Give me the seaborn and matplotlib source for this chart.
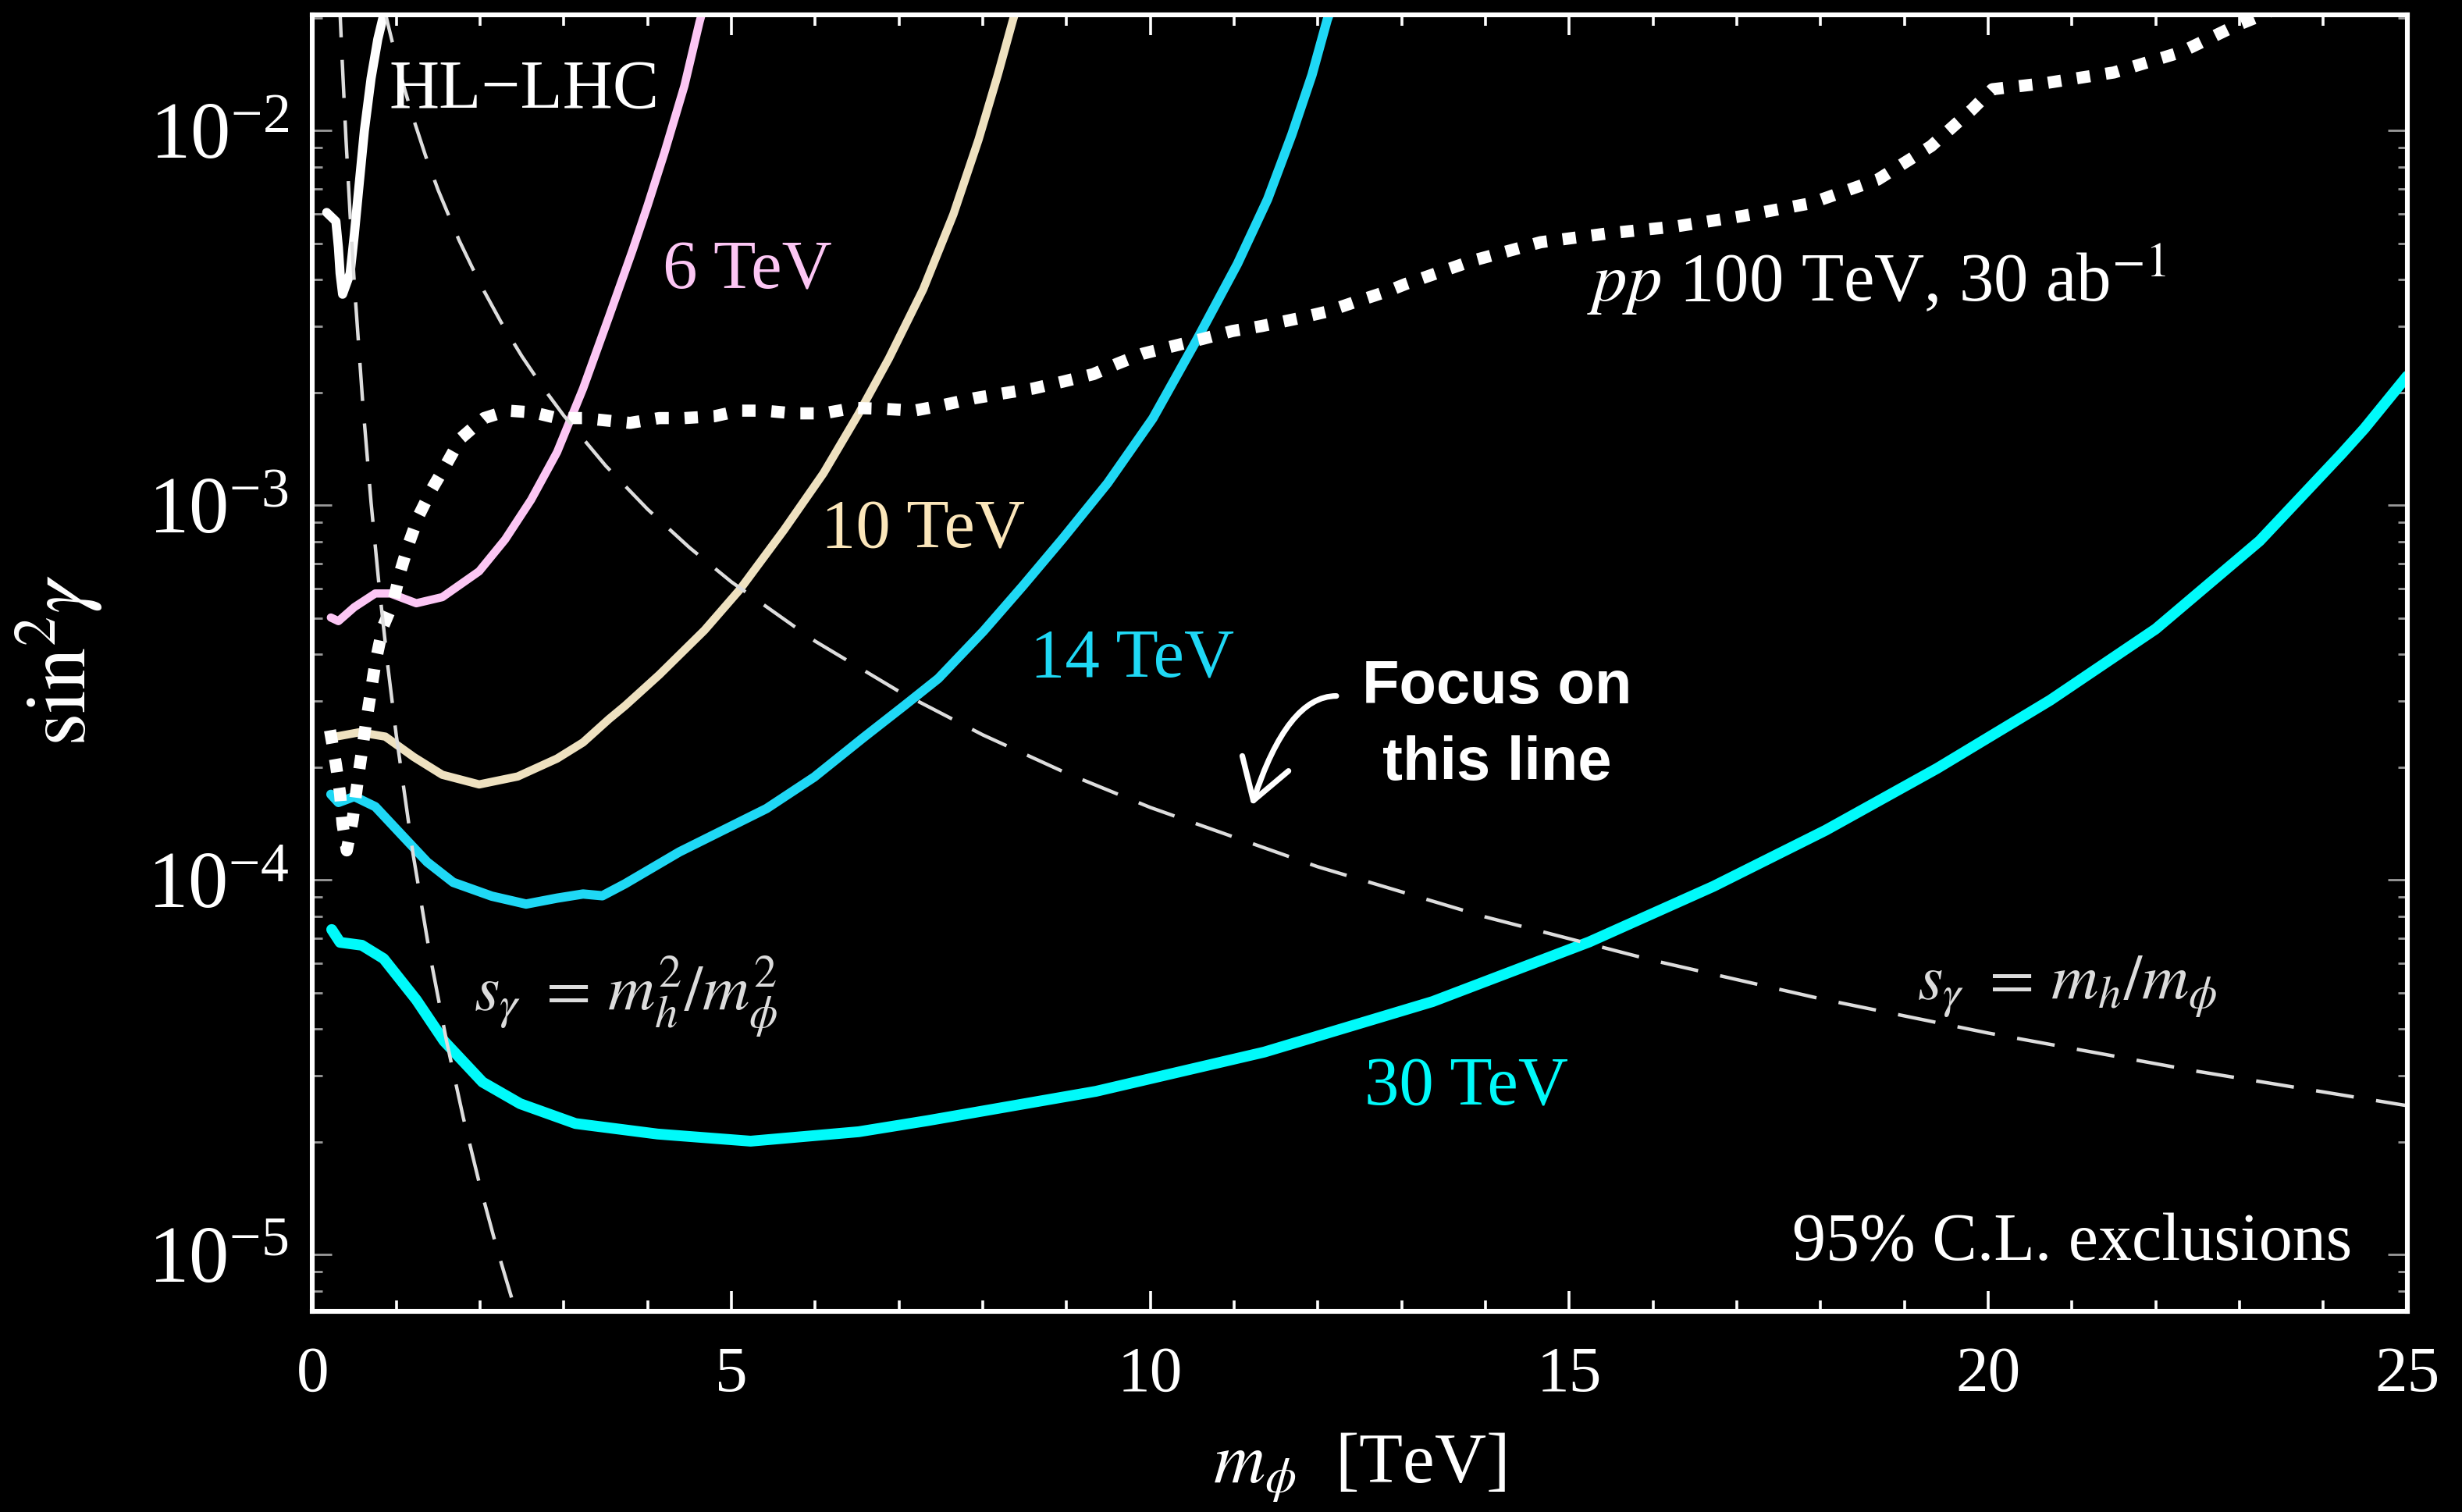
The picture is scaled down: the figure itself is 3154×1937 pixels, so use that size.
import numpy as np
import matplotlib
matplotlib.use("Agg")
import matplotlib.pyplot as plt
import seaborn as sns
from matplotlib.ticker import LogLocator, NullFormatter, MultipleLocator

# ---------------- data (m_phi in TeV, sin^2 gamma) ----------------
m_hl = [0.17, 0.28, 0.31, 0.33, 0.36, 0.45, 0.50, 0.56, 0.62, 0.70, 0.78, 0.84, 0.86]
y_hl = [6.05e-3, 5.73e-3, 4.88e-3, 4.16e-3, 3.66e-3, 4.16e-3, 5.28e-3, 7.28e-3,
        1.0e-2, 1.38e-2, 1.754e-2, 1.995e-2, 2.09e-2]

m_6 = [0.22, 0.31, 0.50, 0.75, 0.93, 1.24, 1.55, 1.99, 2.30, 2.61, 2.92, 3.23,
       3.54, 3.82, 4.00, 4.20, 4.44, 4.62, 4.66]
y_6 = [5.02e-4, 4.91e-4, 5.35e-4, 5.82e-4, 5.82e-4, 5.48e-4, 5.69e-4, 6.67e-4,
       8.11e-4, 1.035e-3, 1.387e-3, 2.05e-3, 3.19e-3, 4.79e-3, 6.31e-3, 8.71e-3,
       1.318e-2, 1.95e-2, 2.1e-2]

m_10 = [0.28, 0.56, 0.87, 1.21, 1.55, 1.99, 2.45, 2.92, 3.23, 3.54, 3.73, 4.14,
        4.68, 5.10, 5.63, 6.10, 6.52, 6.88, 7.29, 7.65, 7.95, 8.18, 8.36, 8.40]
y_10 = [2.415e-4, 2.48e-4, 2.415e-4, 2.13e-4, 1.91e-4, 1.80e-4, 1.89e-4, 2.11e-4,
        2.33e-4, 2.69e-4, 2.917e-4, 3.532e-4, 4.645e-4, 5.957e-4, 8.61e-4, 1.219e-3,
        1.758e-3, 2.466e-3, 3.776e-3, 5.98e-3, 9.46e-3, 1.409e-2, 1.972e-2, 2.11e-2]

m_14 = [0.22, 0.31, 0.50, 0.75, 1.06, 1.37, 1.68, 2.14, 2.55, 2.92, 3.23, 3.46,
        3.73, 4.38, 5.42, 5.99, 6.58, 7.06, 7.47, 8.01, 8.48, 8.96, 9.49, 10.03,
        10.56, 11.04, 11.40, 11.69, 11.93, 12.11, 12.15]
y_14 = [1.694e-4, 1.611e-4, 1.671e-4, 1.570e-4, 1.324e-4, 1.117e-4, 9.86e-5, 9.06e-5,
        8.63e-5, 8.95e-5, 9.18e-5, 9.08e-5, 9.77e-5, 1.189e-4, 1.552e-4, 1.884e-4,
        2.404e-4, 2.917e-4, 3.451e-4, 4.62e-4, 6.10e-4, 8.18e-4, 1.146e-3, 1.706e-3,
        2.780e-3, 4.41e-3, 6.56e-3, 9.77e-3, 1.409e-2, 1.972e-2, 2.09e-2]

m_30 = [0.23, 0.33, 0.59, 0.85, 1.24, 1.57, 2.03, 2.48, 3.14, 4.12, 5.23, 6.52,
        7.34, 9.35, 11.36, 13.37, 15.24, 16.72, 18.06, 19.39, 20.74, 22.0, 23.24,
        24.22, 24.49, 25.0]
y_30 = [7.38e-5, 6.82e-5, 6.70e-5, 6.17e-5, 4.79e-5, 3.72e-5, 2.89e-5, 2.53e-5,
        2.24e-5, 2.10e-5, 2.01e-5, 2.13e-5, 2.28e-5, 2.73e-5, 3.475e-5, 4.74e-5,
        6.84e-5, 9.62e-5, 1.358e-4, 1.986e-4, 3.02e-4, 4.68e-4, 8.04e-4,
        1.374e-3, 1.603e-3, 2.213e-3]

m_pp = [0.21, 0.28, 0.33, 0.36, 0.41, 0.48, 0.55, 0.64, 0.75, 0.84, 0.96, 1.05,
        1.15, 1.27, 1.43, 1.60, 1.77, 2.05, 2.33, 2.64, 2.92, 3.23, 3.79, 4.14,
        4.44, 4.80, 5.10, 5.39, 5.75, 6.10, 6.46, 6.82, 7.18, 7.47, 7.89, 8.24,
        8.60, 8.96, 9.32, 9.61, 9.91, 10.27, 10.62, 10.98, 11.33, 11.75, 12.11,
        12.46, 12.82, 13.05, 13.85, 14.66, 15.46, 16.27, 17.07, 17.88, 18.68,
        19.32, 19.81, 20.05, 20.69, 21.50, 22.30, 22.94, 23.35]
y_pp = [2.51e-4, 2.04e-4, 1.70e-4, 1.41e-4, 1.20e-4, 1.45e-4, 1.91e-4, 2.63e-4,
        3.79e-4, 4.73e-4, 5.48e-4, 6.67e-4, 7.91e-4, 9.40e-4, 1.11e-3, 1.29e-3,
        1.51e-3, 1.71e-3, 1.79e-3, 1.77e-3, 1.71e-3, 1.71e-3, 1.66e-3, 1.71e-3,
        1.71e-3, 1.73e-3, 1.79e-3, 1.79e-3, 1.76e-3, 1.76e-3, 1.82e-3, 1.81e-3,
        1.79e-3, 1.84e-3, 1.93e-3, 1.99e-3, 2.05e-3, 2.14e-3, 2.24e-3, 2.39e-3,
        2.54e-3, 2.66e-3, 2.78e-3, 2.92e-3, 3.01e-3, 3.15e-3, 3.29e-3, 3.50e-3,
        3.72e-3, 3.90e-3, 4.50e-3, 5.04e-3, 5.32e-3, 5.55e-3, 5.92e-3, 6.40e-3,
        7.40e-3, 9.10e-3, 1.14e-2, 1.29e-2, 1.34e-2, 1.43e-2, 1.62e-2, 1.90e-2,
        2.07e-2]

# s_gamma = m_h / m_phi  (sin^2 gamma values)
m_lin = [0.85, 0.9, 1.0, 1.1, 1.2, 1.35, 1.5, 1.75, 2.0, 2.25, 2.5, 2.75, 3.0, 3.5,
         4.0, 4.5, 5.0, 6.0, 7.0, 8.0, 9.0, 10.0, 12.0, 14.0, 16.0, 18.0, 20.0,
         22.5, 25.0]
y_lin = [0.021626, 0.019290, 0.015625, 0.012913, 0.010851, 0.0085734, 0.0069444,
         0.0051020, 0.0039063, 0.0030864, 0.0025, 0.0020661, 0.0017361, 0.0012755,
         0.00097656, 0.00077160, 0.000625, 0.00043403, 0.00031888, 0.00024414,
         0.00019290, 0.00015625, 0.00010851, 7.9719e-5, 6.1035e-5, 4.8225e-5,
         3.9063e-5, 3.0864e-5, 2.5e-5]

# s_gamma = m_h^2 / m_phi^2
m_quad = [0.32, 0.35, 0.4, 0.45, 0.5, 0.6, 0.7, 0.8, 0.9, 1.0, 1.2, 1.4, 1.6, 1.8,
          2.0, 2.2, 2.45]
y_quad = [0.023283, 0.016270, 0.0095367, 0.0059537, 0.0039063, 0.0018838, 0.0010169,
          0.00059605, 0.00037211, 0.00024414, 0.00011774, 6.3552e-5, 3.7253e-5,
          2.3257e-5, 1.5259e-5, 1.0422e-5, 6.7761e-6]

x_ticks = [0, 5, 10, 15, 20, 25]

# ---------------- style ----------------
sns.set_theme(style="dark")
plt.rcParams.update({
    "font.family": ["Liberation Serif", "DejaVu Serif"],
    "mathtext.fontset": "stix",
    "figure.facecolor": "black",
    "axes.facecolor": "black",
    "savefig.facecolor": "black",
    "axes.grid": False,
    "text.color": "white",
    "axes.labelcolor": "white",
})

fig = plt.figure(figsize=(15.77, 9.685), dpi=200)
ax = fig.add_axes([0.1269, 0.1325, 0.8508, 0.8578])
ax.set_yscale("log")
ax.set_xlim(0, 25)
ax.set_ylim(7.05e-6, 0.0204)

PINK = "#FCC6F4"
BEIGE = "#EEE1C0"
SKY = "#1FD8F5"
CYAN = "#00FAFA"
DASH = "#DDDDDD"

kw = dict(ax=ax, sort=False, estimator=None, legend=False)
sns.lineplot(x=m_6, y=y_6, color=PINK, linewidth=3.8, **kw)
sns.lineplot(x=m_10, y=y_10, color=BEIGE, linewidth=3.8, **kw)
sns.lineplot(x=m_14, y=y_14, color=SKY, linewidth=4.3, **kw)
sns.lineplot(x=m_30, y=y_30, color=CYAN, linewidth=5.0, **kw)
sns.lineplot(x=m_hl, y=y_hl, color="white", linewidth=4.2, **kw)
sns.lineplot(x=m_pp, y=y_pp, color="white", linewidth=5.6,
             linestyle=(0, (1.1, 1.3)), dash_capstyle="butt", **kw)
sns.lineplot(x=m_lin, y=y_lin, color=DASH, linewidth=1.6,
             linestyle=(0, (11, 6.5)), **kw)
sns.lineplot(x=m_quad, y=y_quad, color=DASH, linewidth=1.6,
             linestyle=(0, (11, 6.5)), **kw)

# ---------------- axes styling ----------------
for s in ax.spines.values():
    s.set_color("white")
    s.set_linewidth(2.2)

ax.xaxis.set_major_locator(MultipleLocator(5))
ax.xaxis.set_minor_locator(MultipleLocator(1))
ax.set_xticks(x_ticks)
ax.set_xticklabels([str(t) for t in x_ticks])
ax.yaxis.set_major_locator(LogLocator(base=10, numticks=12))
ax.yaxis.set_minor_locator(LogLocator(base=10, subs=np.arange(2, 10), numticks=100))
ax.yaxis.set_minor_formatter(NullFormatter())

ax.tick_params(axis="x", which="both", direction="in", top=True, bottom=True,
               color="white", labelcolor="white", labelsize=30, pad=16)
ax.tick_params(axis="x", which="major", length=9.5, width=1.3)
ax.tick_params(axis="x", which="minor", length=5, width=1.3)
ax.tick_params(axis="y", which="both", direction="in", left=True, right=True,
               color="#9a9a9a", labelcolor="white", labelsize=37, pad=11)
ax.tick_params(axis="y", which="major", length=9, width=1.0)
ax.tick_params(axis="y", which="minor", length=4.5, width=1.0)

ax.set_xlabel(r"$m_\phi$  [TeV]", fontsize=33, color="white")
ax.xaxis.set_label_coords(0.5, -0.092)
ax.set_ylabel(r"$\sin^2\!\gamma$", fontsize=39, color="white")
ax.yaxis.set_label_coords(-0.099, 0.502)

# ---------------- annotations ----------------
FS = 32
ax.text(0.92, 1.156e-2, "HL\u2212LHC", fontsize=FS, color="white", ha="left", va="baseline")
ax.text(4.18, 3.80e-3, "6 TeV", fontsize=FS, color=PINK, ha="left", va="baseline")
ax.text(6.07, 7.70e-4, "10 TeV", fontsize=FS, color="#FBE6BA", ha="left", va="baseline")
ax.text(8.57, 3.49e-4, "14 TeV", fontsize=FS, color=SKY, ha="left", va="baseline")
ax.text(12.56, 2.515e-5, "30 TeV", fontsize=FS, color=CYAN, ha="left", va="baseline")
ax.text(15.21, 3.51e-3, r"$pp$ 100 TeV, 30 ab$^{-1}$", fontsize=FS, color="white",
        ha="left", va="baseline")
ax.text(24.34, 9.67e-6, "95% C.L. exclusions", fontsize=31, color="white",
        ha="right", va="baseline")
ax.text(19.15, 4.80e-5, r"$s_\gamma\ =\, m_h/m_\phi$", fontsize=30, color="#DCDCDC",
        ha="left", va="baseline")
ax.text(1.925, 4.48e-5, r"$s_\gamma\ =\, m_h^2/m_\phi^2$", fontsize=30, color="#DCDCDC",
        ha="left", va="baseline")

ax.text(14.14, 2.97e-4, "Focus on", fontsize=28, fontweight="bold",
        family=["Liberation Sans", "DejaVu Sans"], color="white", ha="center", va="baseline")
ax.text(14.14, 1.85e-4, "this line", fontsize=28, fontweight="bold",
        family=["Liberation Sans", "DejaVu Sans"], color="white", ha="center", va="baseline")
ax.annotate("", xy=(11.21, 1.58e-4), xytext=(12.22, 3.10e-4),
            arrowprops=dict(arrowstyle="->,head_length=0.45,head_width=0.28",
                            connectionstyle="angle3,angleA=0,angleB=72",
                            color="white", lw=2.6, shrinkA=0, shrinkB=0,
                            mutation_scale=40))

fig.savefig("out.png", dpi=200, facecolor="black")
